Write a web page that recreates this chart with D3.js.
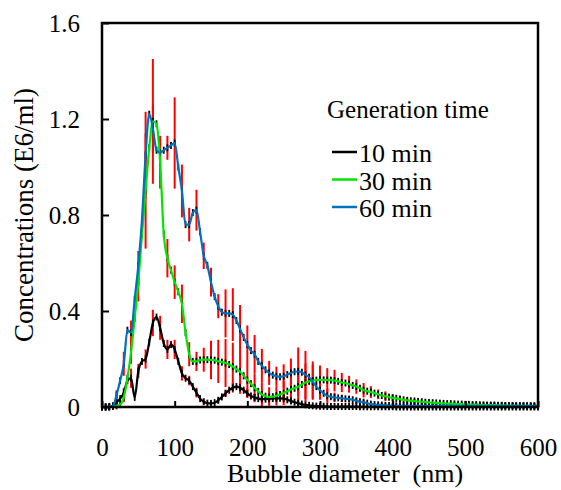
<!DOCTYPE html>
<html>
<head>
<meta charset="utf-8">
<script src="https://cdn.jsdelivr.net/npm/d3@7"></script>
<style>
  body { margin: 0; background: #fff; }
  svg text { font-family: "Liberation Serif", Tinos, "Times New Roman", Times, "DejaVu Serif", serif !important; }
</style>
</head>
<body>
<div id="chart"></div>
<script>
const width = 561;
const height = 490;

// bubble diameter (nm), 5 nm bins
const diameters = d3.range(0, 601, 5);

// concentration (E6/ml) per bin
const conc10 = [0, 0, 0, 0.003, 0.02, 0.035, 0.06, 0.11, 0.12, 0.04,
  0.15, 0.19, 0.2, 0.27, 0.35, 0.375, 0.33, 0.265, 0.24, 0.26,
  0.24, 0.19, 0.14, 0.12, 0.11, 0.085, 0.06, 0.035, 0.022, 0.016,
  0.015, 0.018, 0.028, 0.042, 0.057, 0.07, 0.08, 0.085, 0.08, 0.07,
  0.057, 0.046, 0.04, 0.035, 0.033, 0.033, 0.034, 0.035, 0.036, 0.036,
  0.035, 0.03, 0.025, 0.02, 0.016, 0.012, 0.009, 0.007, 0.005, 0.004,
  0.003, 0.003, 0.002, 0.002, 0.002, 0.002, 0.002, 0.002, 0.002, 0.002,
  0.002, 0.001, 0.001, 0.001, 0.001, 0.001, 0.001, 0.001, 0.001, 0.001,
  0.001, 0, 0, 0, 0, 0, 0, 0, 0, 0,
  0, 0, 0, 0, 0, 0, 0, 0, 0, 0,
  0, 0, 0, 0, 0, 0, 0, 0, 0, 0,
  0, 0, 0, 0, 0, 0, 0, 0, 0, 0, 0];

const conc30 = [0, 0, 0, 0.002, 0.005, 0.01, 0.04, 0.12, 0.23, 0.37,
  0.52, 0.72, 0.9, 1.08, 1.19, 1.18, 1.02, 0.72, 0.62, 0.57,
  0.52, 0.48, 0.43, 0.31, 0.22, 0.19, 0.19, 0.196, 0.197, 0.197,
  0.196, 0.195, 0.19, 0.187, 0.183, 0.177, 0.168, 0.158, 0.147, 0.13,
  0.112, 0.097, 0.08, 0.065, 0.052, 0.045, 0.042, 0.043, 0.047, 0.052,
  0.058, 0.066, 0.073, 0.078, 0.085, 0.094, 0.102, 0.107, 0.11, 0.112,
  0.113, 0.113, 0.112, 0.112, 0.11, 0.107, 0.102, 0.1, 0.095, 0.09,
  0.085, 0.078, 0.07, 0.066, 0.062, 0.058, 0.053, 0.048, 0.045, 0.041,
  0.038, 0.036, 0.033, 0.03, 0.028, 0.026, 0.025, 0.023, 0.022, 0.02,
  0.019, 0.018, 0.017, 0.016, 0.015, 0.014, 0.014, 0.013, 0.012, 0.012,
  0.011, 0.011, 0.01, 0.01, 0.009, 0.009, 0.008, 0.008, 0.008, 0.007,
  0.007, 0.006, 0.006, 0.006, 0.005, 0.005, 0.005, 0.005, 0.004, 0.004, 0.004];

const conc60 = [0, 0, 0.002, 0.005, 0.05, 0.11, 0.18, 0.32, 0.31, 0.45,
  0.59, 0.78, 1.05, 1.22, 1.16, 1.07, 1.06, 1.07, 1.08, 1.09,
  1.1, 1.0, 0.9, 0.76, 0.76, 0.81, 0.82, 0.73, 0.63, 0.59,
  0.52, 0.46, 0.42, 0.395, 0.39, 0.39, 0.385, 0.36, 0.325, 0.29,
  0.26, 0.235, 0.22, 0.19, 0.172, 0.155, 0.142, 0.133, 0.128, 0.126,
  0.128, 0.135, 0.142, 0.147, 0.148, 0.145, 0.134, 0.124, 0.105, 0.085,
  0.07, 0.057, 0.047, 0.043, 0.04, 0.038, 0.036, 0.034, 0.033, 0.03,
  0.026, 0.022, 0.02, 0.016, 0.012, 0.01, 0.009, 0.008, 0.007, 0.006,
  0.005, 0.005, 0.005, 0.005, 0.005, 0.005, 0.005, 0.005, 0.005, 0.005,
  0.005, 0.005, 0.005, 0.005, 0.005, 0.005, 0.005, 0.005, 0.005, 0.005,
  0.005, 0.005, 0.005, 0.005, 0.005, 0.005, 0.005, 0.005, 0.005, 0.005,
  0.005, 0.005, 0.005, 0.005, 0.005, 0.005, 0.005, 0.005, 0.005, 0.005, 0.005];

// error bars (half length, E6/ml) every 10 nm from 10 to 440 nm
const errDiameters = d3.range(10, 441, 10);
const err10 = [0, 0.01, 0.02, 0.04, 0.03, 0.04, 0.055, 0.05, 0.04, 0.04,
  0.03, 0.02, 0.02, 0.01, 0.01, 0.012, 0.015, 0.02, 0.025, 0.02,
  0.015, 0.012, 0.012, 0.012, 0.012, 0.01, 0.008, 0.006, 0.004, 0.003,
  0.003, 0.003, 0.003, 0.003, 0.003, 0.003, 0.003, 0.003, 0.003, 0.003,
  0.003, 0.003, 0.003, 0.003];
const err30 = [0, 0.005, 0.02, 0.05, 0.08, 0.24, 0.26, 0.11, 0.08, 0.07,
  0.08, 0.05, 0.04, 0.05, 0.08, 0.09, 0.1, 0.1, 0.08, 0.07,
  0.06, 0.05, 0.04, 0.04, 0.05, 0.06, 0.08, 0.08, 0.08, 0.06,
  0.05, 0.045, 0.04, 0.035, 0.03, 0.03, 0.025, 0.02, 0.02, 0.015,
  0.012, 0.01, 0.008, 0.006];
const err60 = [0, 0.02, 0.05, 0.05, 0.06, 0.18, 0.1, 0.06, 0.05, 0.19,
  0.11, 0.07, 0.085, 0.055, 0.06, 0.05, 0.1, 0.11, 0.1, 0.08,
  0.08, 0.07, 0.05, 0.04, 0.05, 0.06, 0.1, 0.1, 0.07, 0.04,
  0.03, 0.02, 0.015, 0.012, 0.01, 0.008, 0.006, 0.005, 0.004, 0.004,
  0.004, 0.004, 0.004, 0.004];

const seriesNames = ["10 min", "30 min", "60 min"];
const seriesColors = ["#000000", "#00e600", "#0070c0"];
const seriesValues = [conc10, conc30, conc60];
const seriesErrors = [err10, err30, err60];

const xTicks = [0, 100, 200, 300, 400, 500, 600];
const yTicks = [0, 0.4, 0.8, 1.2, 1.6];

const x = d3.scaleLinear().domain([0, 600]).range([102, 538]);
const y = d3.scaleLinear().domain([0, 1.6]).range([407, 23]);

const svg = d3.select("#chart")
  .append("svg")
  .attr("width", width)
  .attr("height", height)
  .style("background", "#fff");

const series = seriesNames.map((name, i) => ({
  name,
  color: seriesColors[i],
  points: diameters.map((d, j) => ({ d, c: seriesValues[i][j] })),
  errors: errDiameters.map((d, j) => ({ d, c: seriesValues[i][diameters.indexOf(d)], e: seriesErrors[i][j] }))
}));

// red error bars
svg.append("g")
  .attr("stroke", "#ff0000")
  .attr("stroke-width", 2)
  .selectAll("g")
  .data(series)
  .join("g")
  .selectAll("line")
  .data(s => s.errors.filter(p => p.e > 0))
  .join("line")
  .attr("x1", p => x(p.d))
  .attr("x2", p => x(p.d))
  .attr("y1", p => y(p.c + p.e))
  .attr("y2", p => y(Math.max(p.c - p.e, 0)));

// black dash markers on every point
svg.append("g")
  .attr("fill", "#000")
  .selectAll("g")
  .data(series)
  .join("g")
  .selectAll("rect")
  .data(s => s.points)
  .join("rect")
  .attr("x", p => x(p.d) - 0.9)
  .attr("y", p => y(p.c) - 3.5)
  .attr("width", 1.8)
  .attr("height", 7);

const line = d3.line()
  .curve(d3.curveMonotoneX)
  .x(p => x(p.d))
  .y(p => y(p.c));

svg.append("g")
  .attr("fill", "none")
  .attr("stroke-width", 2.2)
  .selectAll("path")
  .data(series)
  .join("path")
  .attr("stroke", s => s.color)
  .attr("d", s => line(s.points));

// axes with inward ticks
const xAxis = svg.append("g")
  .attr("transform", `translate(0,${y(0)})`)
  .call(d3.axisBottom(x).tickValues(xTicks).tickSize(-6).tickPadding(31).tickFormat(d3.format("d")));

const yAxis = svg.append("g")
  .attr("transform", `translate(${x(0)},0)`)
  .call(d3.axisLeft(y).tickValues(yTicks).tickSize(-7).tickPadding(22)
    .tickFormat(d => d === 0 ? "0" : d.toFixed(1)));

[xAxis, yAxis].forEach(a => {
  a.attr("font-family", null);
  a.select(".domain").remove();
  a.selectAll("line").attr("stroke", "#000").attr("stroke-width", 2);
  a.selectAll("text")
    .attr("fill", "#000")
    .style("font-size", "25px");
});

// frame
svg.append("rect")
  .attr("x", x(0))
  .attr("y", y(1.6))
  .attr("width", x(600) - x(0))
  .attr("height", y(0) - y(1.6))
  .attr("fill", "none")
  .attr("stroke", "#000")
  .attr("stroke-width", 2.5);

// axis titles
svg.append("text")
  .attr("x", 227)
  .attr("y", 482)
  .attr("font-size", 26)
  .attr("xml:space", "preserve")
  .text("Bubble diameter  (nm)");

svg.append("text")
  .attr("transform", `translate(33,${(y(0) + y(1.6)) / 2}) rotate(-90)`)
  .attr("text-anchor", "middle")
  .attr("font-size", 27)
  .text("Concentrations (E6/ml)");

// legend
const legend = svg.append("g");
legend.append("text")
  .attr("x", 327)
  .attr("y", 118)
  .attr("font-size", 25)
  .text("Generation time");

const item = legend.selectAll("g")
  .data(series)
  .join("g")
  .attr("transform", (s, i) => `translate(332,${152 + i * 27.5})`);

item.append("line")
  .attr("x1", 0)
  .attr("x2", 25)
  .attr("stroke", s => s.color)
  .attr("stroke-width", 2.5);

item.append("text")
  .attr("x", 27)
  .attr("y", 10)
  .attr("font-size", 26)
  .text(s => s.name);
</script>
</body>
</html>
